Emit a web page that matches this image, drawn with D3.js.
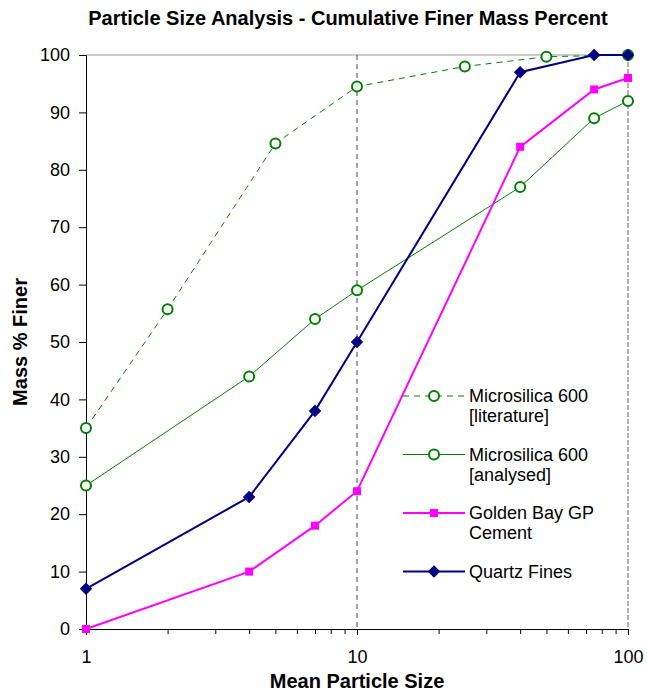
<!DOCTYPE html>
<html>
<head>
<meta charset="utf-8">
<script src="https://cdn.jsdelivr.net/npm/d3@7"></script>
<style>
  body { margin: 0; background: #fff; }
  text { font-family: "Liberation Sans", Arial, sans-serif; }
</style>
</head>
<body>
<div id="chart"></div>
<script>
// data
var litSizes = [1, 2, 5, 10, 25, 50, 100];
var litValues = [35, 55.7, 84.6, 94.5, 98, 99.7, 100];
var sizes = [1, 4, 7, 10, 40, 75, 100];
var analysedValues = [25, 44, 54, 59, 77, 89, 92];
var cementValues = [0, 10, 18, 24, 84, 94, 96];
var quartzValues = [7, 23, 38, 50, 97, 100, 100];
var yTicks = [0, 10, 20, 30, 40, 50, 60, 70, 80, 90, 100];
var xTicks = [1, 10, 100];

var series = [
  {name: ["Microsilica 600", "[literature]"], x: litSizes, y: litValues, color: "#008000", width: 1, dash: "6,5", marker: "circle"},
  {name: ["Microsilica 600", "[analysed]"], x: sizes, y: analysedValues, color: "#008000", width: 1, dash: null, marker: "circle"},
  {name: ["Golden Bay GP", "Cement"], x: sizes, y: cementValues, color: "#FF00FF", width: 2, dash: null, marker: "square"},
  {name: ["Quartz Fines"], x: sizes, y: quartzValues, color: "#000080", width: 2, dash: null, marker: "diamond"}
];

var W = 647, H = 692;
var margin = {top: 55, right: 19, bottom: 63, left: 86};
var width = W - margin.left - margin.right,
    height = H - margin.top - margin.bottom;

var svg = d3.select("#chart").append("svg")
  .attr("width", W).attr("height", H);

var g = svg.append("g")
  .attr("transform", "translate(" + margin.left + "," + margin.top + ")");

var x = d3.scaleLog().domain([1, 100]).range([0, width]);
var y = d3.scaleLinear().domain([0, 100]).range([height, 0]);

// frame: top solid grey, right and x=10 dashed
g.append("line").attr("x1", 0).attr("x2", width).attr("y1", 0).attr("y2", 0)
  .style("stroke", "#999").style("stroke-width", 1);
g.append("line").attr("x1", x(10)).attr("x2", x(10)).attr("y1", 0).attr("y2", height)
  .style("stroke", "#444").style("stroke-width", 1).style("stroke-dasharray", "5,4");
g.append("line").attr("x1", width).attr("x2", width).attr("y1", 0).attr("y2", height)
  .style("stroke", "#666").style("stroke-width", 1).style("stroke-dasharray", "5,2");

// y axis
var yAxis = g.append("g")
  .call(d3.axisLeft(y).tickValues(yTicks).tickSize(7).tickPadding(9));
yAxis.selectAll("text").style("font-size", "18px").style("fill", "#000");
yAxis.selectAll("line, path").style("stroke", "#000");

// x axis with minor log ticks
var minor = [];
[1, 10].forEach(function(d) { for (var k = 2; k <= 9; k++) minor.push(d * k); });
var xMinor = g.append("g")
  .attr("transform", "translate(0," + height + ")")
  .call(d3.axisBottom(x).tickValues(minor).tickSize(5).tickFormat(""));
xMinor.selectAll("line").style("stroke", "#000");
xMinor.select(".domain").remove();

var xAxis = g.append("g")
  .attr("transform", "translate(0," + height + ")")
  .call(d3.axisBottom(x).tickValues(xTicks).tickSize(6).tickPadding(15).tickFormat(d3.format("d")));
xAxis.selectAll("text").style("font-size", "18px").style("fill", "#000");
xAxis.selectAll("line, path").style("stroke", "#000");

// lines
var line = d3.line()
  .x(function(d) { return x(d[0]); })
  .y(function(d) { return y(d[1]); });

function drawMarker(sel, s, cx, cy) {
  if (s.marker == "circle") {
    sel.append("circle").attr("cx", cx).attr("cy", cy).attr("r", 5)
      .style("fill", "#fff").style("stroke", s.color).style("stroke-width", 2);
  } else if (s.marker == "square") {
    sel.append("rect").attr("x", cx - 4).attr("y", cy - 4).attr("width", 8).attr("height", 8)
      .style("fill", s.color);
  } else {
    sel.append("path")
      .attr("d", d3.symbol().type(d3.symbolDiamond2).size(100)())
      .attr("transform", "translate(" + cx + "," + cy + ")")
      .style("fill", s.color);
  }
}

series.forEach(function(s) {
  var pts = s.x.map(function(v, i) { return [v, s.y[i]]; });
  g.append("path").datum(pts)
    .attr("d", line)
    .style("fill", "none")
    .style("stroke", s.color)
    .style("stroke-width", s.width)
    .style("stroke-dasharray", s.dash);
  var mk = g.append("g");
  pts.forEach(function(p) { drawMarker(mk, s, x(p[0]), y(p[1])); });
});

// legend
var legend = svg.append("g").attr("transform", "translate(403,396)");
series.forEach(function(s, i) {
  var row = legend.append("g").attr("transform", "translate(0," + (i * 58.5) + ")");
  row.append("line").attr("x1", 0).attr("x2", 62).attr("y1", 0).attr("y2", 0)
    .style("stroke", s.color).style("stroke-width", s.width)
    .style("stroke-dasharray", s.dash);
  drawMarker(row, s, 31, 0);
  s.name.forEach(function(t, j) {
    row.append("text").attr("x", 66).attr("y", 6 + j * 20)
      .style("font-size", "18px").style("fill", "#000").text(t);
  });
});

// titles
svg.append("text").attr("x", 348).attr("y", 25).attr("text-anchor", "middle")
  .style("font-size", "20px").style("font-weight", "bold").text("Particle Size Analysis - Cumulative Finer Mass Percent");
svg.append("text").attr("x", margin.left + x(10)).attr("y", 688).attr("text-anchor", "middle")
  .style("font-size", "20px").style("font-weight", "bold").text("Mean Particle Size");
svg.append("text").attr("transform", "translate(27," + (margin.top + height / 2) + ") rotate(-90)")
  .attr("text-anchor", "middle")
  .style("font-size", "20px").style("font-weight", "bold").text("Mass % Finer");
</script>
</body>
</html>
